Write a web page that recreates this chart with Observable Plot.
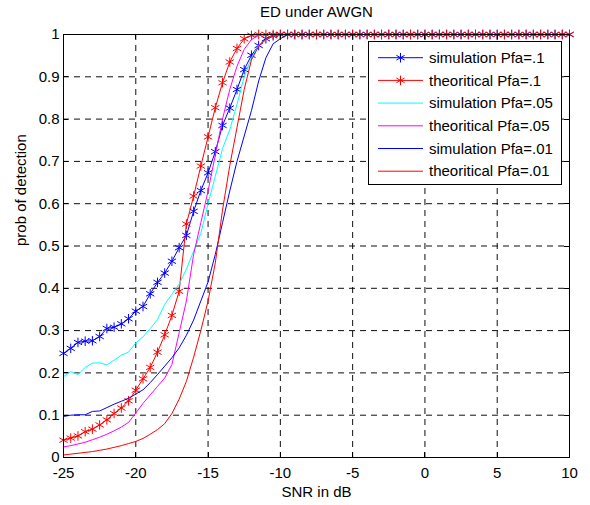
<!DOCTYPE html>
<html><head><meta charset="utf-8">
<script src="https://cdn.jsdelivr.net/npm/d3@7"></script>
<script src="https://cdn.jsdelivr.net/npm/@observablehq/plot@0.6"></script>
<style>body{margin:0;background:#fff} svg{display:block}</style>
</head><body><div id="chart"></div>
<script>
// SNR grid (dB)
const snr = [-25,-24.5,-24,-23.5,-23,-22.5,-22,-21.5,-21,-20.5,-20,-19.5,-19,-18.5,-18,-17.5,-17,-16.5,-16,-15.5,-15,-14.5,-14,-13.5,-13,-12.5,-12,-11.5,-11,-10.5,-10,
  -9.5,-9,-8.5,-8,-7.5,-7,-6.5,-6,-5.5,-5,-4.5,-4,-3.5,-3,-2.5,-2,-1.5,-1,-0.5,0,0.5,1,1.5,2,2.5,3,3.5,4,4.5,5,5.5,6,6.5,7,7.5,8,8.5,9,9.5,10];

const simPfa1 = [0.246,0.258,0.272,0.275,0.276,0.286,0.305,0.308,0.316,0.328,0.346,0.357,0.387,0.414,0.436,0.464,0.496,0.525,0.582,0.631,0.673,0.723,0.785,0.826,0.870,0.917,0.951,0.974,0.990,0.997,1,
  1,1,1,1,1,1,1,1,1,1,1,1,1,1,1,1,1,1,1,1,1,1,1,1,1,1,1,1,1,1,1,1,1,1,1,1,1,1,1,1];
const theoPfa1 = [0.041,0.046,0.051,0.061,0.067,0.077,0.089,0.104,0.117,0.134,0.159,0.186,0.213,0.249,0.290,0.336,0.393,0.552,0.618,0.689,0.758,0.827,0.886,0.935,0.967,0.990,0.998,1,1,1,1,
  1,1,1,1,1,1,1,1,1,1,1,1,1,1,1,1,1,1,1,1,1,1,1,1,1,1,1,1,1,1,1,1,1,1,1,1,1,1,1,1];
const simPfa05 = [0.191,0.203,0.196,0.213,0.223,0.224,0.219,0.230,0.242,0.249,0.271,0.285,0.305,0.326,0.362,0.386,0.410,0.445,0.488,0.530,0.600,0.665,0.730,0.775,0.835,0.900,0.945,0.974,0.988,0.996,1,
  1,1,1,1,1,1,1,1,1,1,1,1,1,1,1,1,1,1,1,1,1,1,1,1,1,1,1,1,1,1,1,1,1,1,1,1,1,1,1,1];
const theoPfa05 = [0.025,0.028,0.032,0.036,0.042,0.048,0.055,0.063,0.072,0.083,0.105,0.128,0.148,0.168,0.188,0.220,0.295,0.370,0.480,0.555,0.630,0.715,0.800,0.870,0.925,0.965,0.988,0.998,1,1,1,
  1,1,1,1,1,1,1,1,1,1,1,1,1,1,1,1,1,1,1,1,1,1,1,1,1,1,1,1,1,1,1,1,1,1,1,1,1,1,1,1];
const simPfa01 = [0.097,0.100,0.101,0.101,0.109,0.110,0.118,0.126,0.133,0.140,0.150,0.160,0.177,0.196,0.216,0.236,0.259,0.289,0.325,0.370,0.415,0.480,0.555,0.630,0.700,0.760,0.820,0.890,0.945,0.978,0.990,
  1,1,1,1,1,1,1,1,1,1,1,1,1,1,1,1,1,1,1,1,1,1,1,1,1,1,1,1,1,1,1,1,1,1,1,1,1,1,1,1];
const theoPfa01 = [0.006,0.008,0.010,0.012,0.014,0.017,0.020,0.024,0.028,0.033,0.038,0.045,0.055,0.066,0.080,0.104,0.138,0.180,0.237,0.300,0.370,0.460,0.585,0.690,0.780,0.870,0.940,0.972,0.988,0.996,1,
  1,1,1,1,1,1,1,1,1,1,1,1,1,1,1,1,1,1,1,1,1,1,1,1,1,1,1,1,1,1,1,1,1,1,1,1,1,1,1,1];

const seriesNames = ["simulation Pfa=.1","theoritical Pfa=.1","simulation Pfa=.05","theoritical Pfa=.05","simulation Pfa=.01","theoritical Pfa=.01"];
const seriesColors = ["#0000ff","#ff0000","#00ffff","#ff00ff","#0000ff","#ff0000"];
const seriesStars = [true,true,false,false,false,false];

const xTicks = [-25,-20,-15,-10,-5,0,5,10];
const yTicks = [0,0.1,0.2,0.3,0.4,0.5,0.6,0.7,0.8,0.9,1];
const titleText = "ED under AWGN";
const xLabelText = "SNR in dB";
const yLabelText = "prob of detection";

const valueLists = [simPfa1, theoPfa1, simPfa05, theoPfa05, simPfa01, theoPfa01];
const rows = valueLists.flatMap((vals, i) => vals.map((v, j) => ({snr: snr[j], pd: v, k: i})));

const FONT = "'Liberation Sans', Arial, Helvetica, sans-serif";
const starR = 4.5;

const seriesMarks = valueLists.flatMap((vals, i) => {
  const d = rows.filter(r => r.k === i);
  const m = [Plot.line(d, {x: "snr", y: "pd", stroke: seriesColors[i], strokeWidth: 1})];
  if (seriesStars[i]) m.push(Plot.dot(d, {x: "snr", y: "pd", symbol: "asterisk", r: starR, stroke: seriesColors[i], strokeWidth: 1}));
  return m;
});

const plot = Plot.plot({
  width: 590, height: 505,
  marginLeft: 63, marginRight: 21, marginTop: 34, marginBottom: 48,
  style: {fontSize: "15px", fontFamily: FONT, background: "white", color: "black"},
  x: {domain: [-25, 10]},
  y: {domain: [0, 1]},
  marks: [
    Plot.gridX({ticks: xTicks, stroke: "#000", strokeOpacity: 0.95, strokeDasharray: "6,5"}),
    Plot.gridY({ticks: yTicks, stroke: "#000", strokeOpacity: 0.95, strokeDasharray: "6,5"}),
    ...seriesMarks,
    Plot.frame({stroke: "#000", strokeWidth: 1}),
    Plot.axisX({ticks: xTicks, tickFormat: d => String(d), tickSize: 0, tickPadding: 10, label: null}),
    Plot.axisY({ticks: yTicks, tickFormat: d => String(Math.round(d * 10) / 10), tickSize: 0, tickPadding: 4, label: null}),
    Plot.text([titleText], {frameAnchor: "top", dy: -22, lineAnchor: "middle", text: d => d, fontSize: 15}),
    Plot.text([xLabelText], {frameAnchor: "bottom", dy: 35, lineAnchor: "middle", text: d => d, fontSize: 15}),
    Plot.text([yLabelText], {frameAnchor: "left", dx: -42, rotate: -90, lineAnchor: "middle", text: d => d, fontSize: 15})
  ]
});
document.getElementById("chart").appendChild(plot);

// inward ticks on all four sides (MATLAB box style)
const svg = d3.select(plot);
const sx = plot.scale("x"), sy = plot.scale("y");
const [yb, yt] = sy.range, [xl, xr] = sx.range;
const tg = svg.append("g").attr("stroke", "#000").attr("stroke-width", 1);
xTicks.forEach(t => {
  const px = Math.round(sx.apply(t)) + 0.5;
  tg.append("line").attr("x1", px).attr("x2", px).attr("y1", yb).attr("y2", yb - 5);
  tg.append("line").attr("x1", px).attr("x2", px).attr("y1", yt).attr("y2", yt + 5);
});
yTicks.forEach(t => {
  const py = Math.round(sy.apply(t)) + 0.5;
  tg.append("line").attr("y1", py).attr("y2", py).attr("x1", xl).attr("x2", xl + 5);
  tg.append("line").attr("y1", py).attr("y2", py).attr("x1", xr).attr("x2", xr - 5);
});

// legend box
const lg = svg.append("g").attr("text-anchor", "start");
lg.append("rect").attr("x", 368.5).attr("y", 41.5).attr("width", 193).attr("height", 143)
  .attr("fill", "white").attr("stroke", "#000").attr("stroke-width", 1);
const starPath = d3.symbol().type(d3.symbolAsterisk).size(Math.PI * starR * starR)();
seriesNames.forEach((name, i) => {
  const y = 57.7 + i * 22.7;
  lg.append("line").attr("x1", 378).attr("x2", 423).attr("y1", y).attr("y2", y)
    .attr("stroke", seriesColors[i]).attr("stroke-width", 1);
  if (seriesStars[i]) lg.append("path").attr("d", starPath).attr("transform", `translate(400.5,${y})`)
    .attr("fill", "none").attr("stroke", seriesColors[i]).attr("stroke-width", 1);
  lg.append("text").attr("x", 429).attr("y", y).attr("dy", "0.35em").attr("text-anchor", "start")
    .attr("font-size", 15).attr("font-family", FONT).attr("fill", "#000").text(name);
});
</script>
</body></html>
